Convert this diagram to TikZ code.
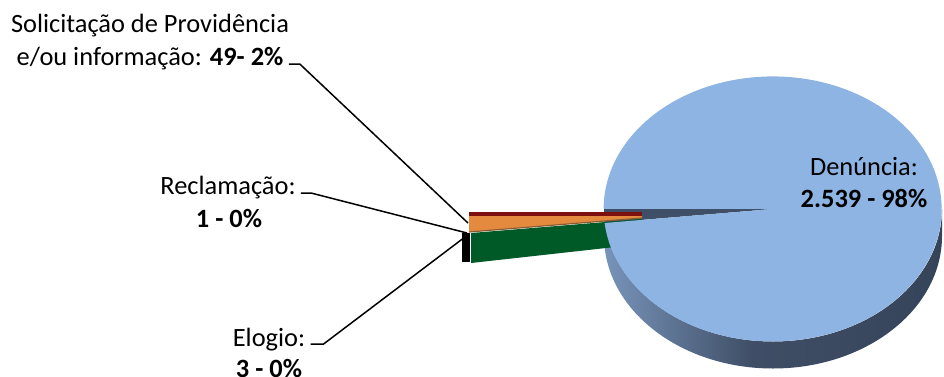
\documentclass[tikz,border=0pt]{standalone}
\usepackage{fontspec}
\setmainfont{Carlito}
\usepackage{xcolor}
\definecolor{pietop}{HTML}{8DB4E2}
\definecolor{sideL}{HTML}{7894BA}
\definecolor{sideM}{HTML}{3F4E66}
\definecolor{sideR}{HTML}{36445A}
\definecolor{gapgray}{HTML}{3F4F67}
\definecolor{slicered}{HTML}{7F1010}
\definecolor{sliceorange}{HTML}{E38A3E}
\definecolor{slicegreen}{HTML}{005A28}
\definecolor{edgebrown}{HTML}{8A5A30}
\pgfdeclarehorizontalshading{pieside}{100bp}{color(0bp)=(sideL); color(25bp)=(sideL); color(47bp)=(sideM); color(75bp)=(sideR); color(100bp)=(sideR)}

\tikzset{
  lbl/.style={inner sep=0pt,anchor=base,font=\fontsize{13.2}{16}\selectfont},
  leader/.style={black,line width=0.75pt}
}

\begin{document}
\begin{tikzpicture}[x=0.5pt,y=-0.5pt]
            \useasboundingbox (0,0) rectangle (944,376);

            % side of the pie
            \shade[shading=pieside]
                (604,209) -- (604,236) arc[start angle=180,end angle=0,x radius=169,y radius=132.5]
                -- (942,209) arc[start angle=0,end angle=180,x radius=169,y radius=132.5] -- cycle;
            \fill[gapgray] (773,209) -- (604,209) -- (604.6,223) -- cycle;

            % exploded slices
            \fill[slicegreen] (471,233) -- (642,219) -- (642,244) -- (471,263) -- cycle;
            \fill[pietop] (773,209) -- (604.6,223) arc[start angle=173.9,end angle=-180,x radius=169,y radius=132.5] -- cycle;
            \fill[sliceorange] (469,216) -- (642,216) -- (642,218) -- (469,232) -- cycle;
            \draw[edgebrown,line width=0.6pt] (469,232) -- (642,218);
            \fill[slicered] (469,212) rectangle (642,216);
            \fill[black] (462,233) rectangle (470,262);

            \coordinate (solpt) at (468,223);
            \coordinate (recpt) at (467,233);
            \coordinate (elopt) at (465,237);

            \node[lbl] (sol1) at (150,32.7) {Solicitação de Providência};
            \node[lbl] (sol2) at (150,65) {e/ou informação: \textbf{49- 2\%}};
            \node[lbl] (rec1) at (228,194) {Reclamação:};
            \node[lbl] (rec2) at (229,227) {\textbf{1 - 0\%}};
            \node[lbl] (elo1) at (269,346) {Elogio:};
            \node[lbl] (elo2) at (269,377.5) {\textbf{3 - 0\%}};
            \node[lbl] (den1) at (864,175) {Denúncia:};
            \node[lbl] (den2) at (864,207) {\textbf{2.539 - 98\%}};

            \draw[leader] ([shift={(5,-1)}]sol2.base east) -- ++(11,0) -- (solpt);
            \draw[leader] ([shift={(5,-1)}]rec1.base east) -- ++(10,0) -- (recpt);
            \draw[leader] ([shift={(5,-2)}]elo1.base east) -- ++(13,0) -- (elopt);
        \end{tikzpicture}
\end{document}
